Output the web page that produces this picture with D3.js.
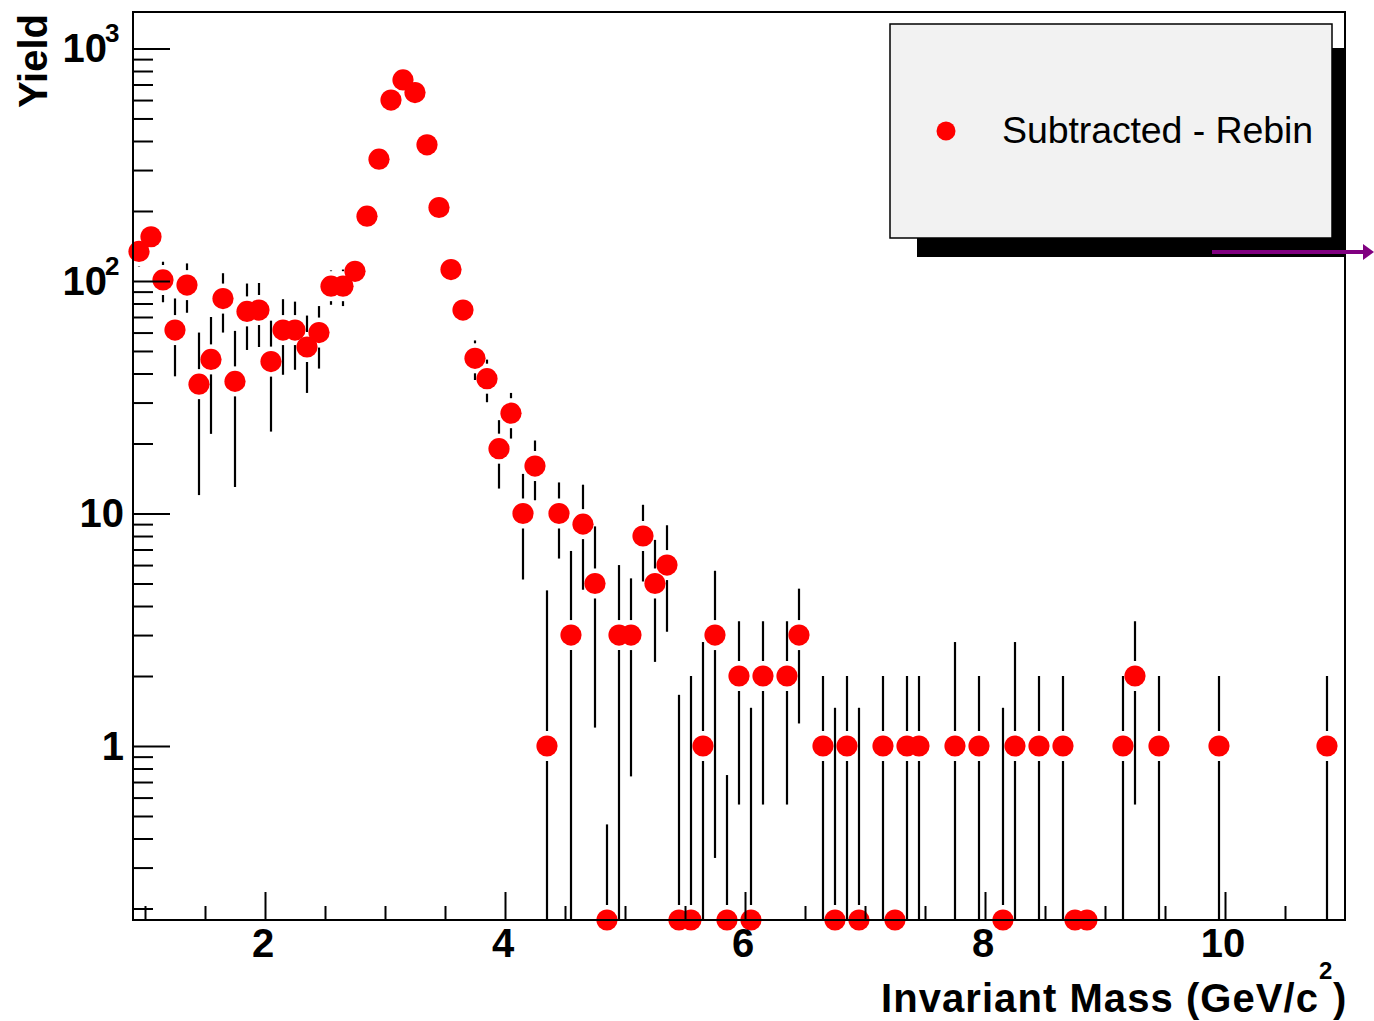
<!DOCTYPE html>
<html>
<head>
<meta charset="utf-8">
<script src="https://cdn.jsdelivr.net/npm/d3@7"></script>
<style>
  body { margin: 0; background: #fff; }
  svg text { font-family: "Liberation Sans", Arial, Helvetica, sans-serif; }
</style>
</head>
<body>
<svg id="svg" width="1374" height="1021"></svg>
<script>
// bin centres in GeV/c^2 (0.1 wide bins), empty bins are not drawn
var mass = [0.95, 1.05, 1.15, 1.25, 1.35, 1.45, 1.55, 1.65, 1.75, 1.85,
  1.95, 2.05, 2.15, 2.25, 2.35, 2.45, 2.55, 2.65, 2.75, 2.85,
  2.95, 3.05, 3.15, 3.25, 3.35, 3.45, 3.55, 3.65, 3.75, 3.85,
  3.95, 4.05, 4.15, 4.25, 4.35, 4.45, 4.55, 4.65, 4.75, 4.85,
  4.95, 5.05, 5.15, 5.25, 5.35, 5.45, 5.55, 5.65, 5.75, 5.85,
  5.95, 6.05, 6.15, 6.35, 6.45, 6.65, 6.75, 6.85, 6.95,
  7.15, 7.25, 7.35, 7.45, 7.75, 7.95, 8.15, 8.25, 8.45,
  8.65, 8.75, 8.85, 9.15, 9.25, 9.45, 9.95, 10.85];

// subtracted yield per bin (negative bins end up on the axis floor)
var counts = [134, 155, 101, 61.5, 96, 36, 46, 84, 37, 74,
  75, 45, 61.5, 61.5, 52, 60, 95, 95, 110, 190,
  334, 600, 732, 646, 385, 207, 112, 75, 46.5, 38,
  19, 27, 10, 16, 1, 10, 3, 9, 5, -1,
  3, 3, 8, 5, 6, -1, -1, 1, 3, -1,
  2, -1, 2, 2, 3, 1, -1, 1, -1,
  1, -1, 1, 1, 1, 1, -1, 1, 1,
  1, -1, -1, 1, 2, 1, 1, 1];

var errors = [19, 20, 20, 22.6, 23, 24, 24, 24, 24, 23.5,
  23, 22.5, 22, 20, 19, 18, 16, 17, 15, 16,
  19, 25, 28, 26, 21, 16, 13, 10, 9, 7.9,
  6.2, 6, 4.8, 4.6, 3.67, 3.6, 3.9, 4.3, 3.8, 1.46,
  3, 2.26, 2.9, 2.7, 2.9, 2.66, 3.0, 1.8, 2.67, 1.75,
  1.44, 2.46, 1.44, 1.44, 1.75, 1, 2.46, 1, 2.46,
  1, 1, 1, 1, 1.8, 1, 2.46, 1.8, 1,
  1, 1, 1, 1, 1.44, 1, 1, 1];

var xMajor = [2, 4, 6, 8, 10];
var yMajor = [1, 10, 100, 1000];
var yLabelBase = ["1", "10", "10", "10"];
var yLabelExp = ["", "", "2", "3"];

var legendText = "Subtracted - Rebin";
var xTitle = "Invariant Mass (GeV/c";
var yTitle = "Yield";

var svg = d3.select("#svg");
// frame edges (note: "top" is taken by window.top)
var fLeft = 133, fRight = 1345, fTop = 12, fBottom = 920;
var gap = 15;

var xScale = d3.scaleLinear().domain([0.9, 11]).range([fLeft, fRight]);
var yMin = 0.1785, yMax = 1435;
var yScale = d3.scaleLog().domain([yMin, yMax]).range([fBottom, fTop]);

var points = mass.map((m, i) => ({ x: m, v: counts[i], e: errors[i] }));

svg.append("rect")
  .attr("width", 1374)
  .attr("height", 1021)
  .attr("fill", "#fff");

// error bars, split around the marker
var bars = svg.append("g").attr("stroke", "#000").attr("stroke-width", 2.2);
points.forEach(function (d) {
  var cx = xScale(d.x);
  var cy = yScale(Math.max(d.v, yMin));
  var hi = d.v + d.e;
  if (hi <= yMin) return;
  var yTop = yScale(hi);
  var lo = d.v - d.e;
  var yBot = lo > yMin ? yScale(lo) : fBottom;
  if (yTop < cy - gap) {
    bars.append("line")
      .attr("x1", cx).attr("x2", cx)
      .attr("y1", yTop).attr("y2", cy - gap);
  }
  if (yBot > cy + gap) {
    bars.append("line")
      .attr("x1", cx).attr("x2", cx)
      .attr("y1", cy + gap).attr("y2", yBot);
  }
});

svg.append("g")
  .selectAll("circle")
  .data(points)
  .enter()
  .append("circle")
  .attr("cx", d => xScale(d.x))
  .attr("cy", d => yScale(Math.max(d.v, yMin)))
  .attr("r", 10.6)
  .attr("fill", "#ff0000");

// x axis ticks (inside the frame)
var xMinor = d3.range(1, 11, 0.5).filter(v => v % 2 !== 0);
var xMajorG = svg.append("g")
  .attr("transform", `translate(0, ${fBottom})`)
  .call(d3.axisBottom(xScale).tickValues(xMajor).tickSize(-28).tickFormat(""));
var xMinorG = svg.append("g")
  .attr("transform", `translate(0, ${fBottom})`)
  .call(d3.axisBottom(xScale).tickValues(xMinor).tickSize(-14).tickFormat(""));

// y axis ticks
var yMinor = [];
[0.1, 1, 10, 100].forEach(function (dec) {
  for (var k = 2; k <= 9; k++) {
    var v = k * dec;
    if (v > yMin && v < yMax) yMinor.push(v);
  }
});
var yMajorG = svg.append("g")
  .attr("transform", `translate(${fLeft}, 0)`)
  .call(d3.axisLeft(yScale).tickValues(yMajor).tickSize(-37).tickFormat(""));
var yMinorG = svg.append("g")
  .attr("transform", `translate(${fLeft}, 0)`)
  .call(d3.axisLeft(yScale).tickValues(yMinor).tickSize(-20).tickFormat(""));

[xMajorG, xMinorG, yMajorG, yMinorG].forEach(function (g) {
  g.select(".domain").remove();
  g.selectAll("line").attr("stroke-width", 2);
});

// frame
svg.append("rect")
  .attr("x", fLeft)
  .attr("y", fTop)
  .attr("width", fRight - fLeft)
  .attr("height", fBottom - fTop)
  .attr("fill", "none")
  .attr("stroke", "#000")
  .attr("stroke-width", 2);

// tick labels
svg.append("g")
  .selectAll("text")
  .data(xMajor)
  .enter()
  .append("text")
  .attr("x", d => xScale(d) - 2)
  .attr("y", 957)
  .attr("text-anchor", "middle")
  .attr("font-size", 40)
  .attr("font-weight", "bold")
  .text(d => d);

var yLab = svg.append("g").attr("font-weight", "bold");
yMajor.forEach(function (v, i) {
  var ty = yScale(v) + 14;
  if (yLabelExp[i] === "") {
    yLab.append("text")
      .attr("x", 124)
      .attr("y", ty)
      .attr("text-anchor", "end")
      .attr("font-size", 40)
      .text(yLabelBase[i]);
  } else {
    yLab.append("text")
      .attr("x", 107)
      .attr("y", ty)
      .attr("text-anchor", "end")
      .attr("font-size", 40)
      .text(yLabelBase[i]);
    yLab.append("text")
      .attr("x", 105)
      .attr("y", ty - 20)
      .attr("font-size", 26)
      .text(yLabelExp[i]);
  }
});

// axis titles
svg.append("text")
  .attr("x", 881)
  .attr("y", 1012)
  .attr("font-size", 40)
  .attr("font-weight", "bold")
  .attr("textLength", 437)
  .text(xTitle);
svg.append("text")
  .attr("x", 1319)
  .attr("y", 979)
  .attr("font-size", 24)
  .attr("font-weight", "bold")
  .text("2");
svg.append("text")
  .attr("x", 1333)
  .attr("y", 1012)
  .attr("font-size", 40)
  .attr("font-weight", "bold")
  .text(")");

svg.append("text")
  .attr("transform", "translate(47, 14) rotate(-90)")
  .attr("text-anchor", "end")
  .attr("font-size", 40)
  .attr("font-weight", "bold")
  .text(yTitle);

// legend with its shadow
svg.append("rect")
  .attr("x", 917)
  .attr("y", 48)
  .attr("width", 429)
  .attr("height", 209)
  .attr("fill", "#000");
svg.append("rect")
  .attr("x", 890)
  .attr("y", 24)
  .attr("width", 442)
  .attr("height", 214)
  .attr("fill", "#f2f2f2")
  .attr("stroke", "#000")
  .attr("stroke-width", 1.5);
svg.append("circle")
  .attr("cx", 946)
  .attr("cy", 131)
  .attr("r", 9.5)
  .attr("fill", "#ff0000");
svg.append("text")
  .attr("x", 1002)
  .attr("y", 143)
  .attr("font-size", 37.5)
  .attr("textLength", 311)
  .text(legendText);

// purple arrow leaving the legend
svg.append("line")
  .attr("x1", 1212)
  .attr("x2", 1366)
  .attr("y1", 252)
  .attr("y2", 252)
  .attr("stroke", "#800080")
  .attr("stroke-width", 4);
svg.append("path")
  .attr("d", "M1363,244 L1374,252 L1363,260 Z")
  .attr("fill", "#800080");
</script>
</body>
</html>
